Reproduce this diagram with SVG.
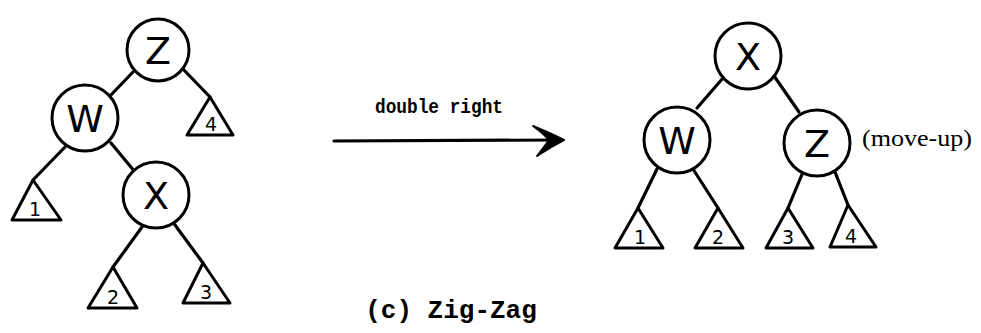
<svg xmlns="http://www.w3.org/2000/svg" width="981" height="333" viewBox="0 0 981 333">
<style>
.n{fill:#fff;stroke:#000;stroke-width:3}
.t{fill:#fff;stroke:#000;stroke-width:3;stroke-linejoin:round}
.e{stroke:#000;stroke-width:3.2;stroke-linecap:round;fill:none}
.lb{font-family:"DejaVu Sans",sans-serif;font-size:38px;text-anchor:middle;fill:#000}
.d{font-family:"DejaVu Sans",sans-serif;font-size:19px;text-anchor:middle;fill:#000}
.mono{font-family:"Liberation Mono","DejaVu Sans Mono",monospace;fill:#000}
.ser{font-family:"Liberation Serif",serif;fill:#000}
</style>
<rect width="981" height="333" fill="#fff"/>
<g id="connectors">
<line class="e" x1="133" y1="72" x2="110" y2="96"/>
<line class="e" x1="182" y1="68" x2="210" y2="97"/>
<line class="e" x1="65" y1="147" x2="33" y2="180"/>
<line class="e" x1="111" y1="143" x2="135" y2="172"/>
<line class="e" x1="142" y1="227" x2="113" y2="267"/>
<line class="e" x1="175" y1="225" x2="203" y2="263"/>
<line class="e" x1="723" y1="78" x2="697" y2="108"/>
<line class="e" x1="772" y1="73" x2="799" y2="112"/>
<line class="e" x1="657" y1="169" x2="638" y2="208"/>
<line class="e" x1="693" y1="169" x2="718" y2="208"/>
<line class="e" x1="803" y1="172" x2="788" y2="208"/>
<line class="e" x1="835" y1="172" x2="848" y2="205"/>
<path class="e" d="M334 141 L561 140" stroke-width="3.5"/>
<path d="M533 126 Q548 132 564 140 Q550 147 537 156 Q545 146 549 140 Q543 133 533 126 Z" fill="#000" stroke="#000" stroke-width="2" stroke-linejoin="round"/>
</g>
<g id="label-double-right"><text class="mono" x="375" y="113" font-size="20" font-weight="bold" textLength="128" lengthAdjust="spacingAndGlyphs">double right</text></g>
<g id="L-Z"><circle class="n" cx="158" cy="50" r="31"/><text class="lb" x="158" y="64">Z</text></g>
<g id="L-W"><circle class="n" cx="85" cy="118" r="33"/><text class="lb" x="85" y="132">W</text></g>
<g id="L-X"><circle class="n" cx="156" cy="195" r="33"/><text class="lb" x="156" y="209">X</text></g>
<g id="L-T1"><polygon class="t" points="33,180 12,220 61,220"/><text class="d" x="35" y="216">1</text></g>
<g id="L-T4"><polygon class="t" points="210,97 187,135 233,135"/><text class="d" x="211" y="131">4</text></g>
<g id="L-T2"><polygon class="t" points="113,267 88,308 137,308"/><text class="d" x="113" y="304">2</text></g>
<g id="L-T3"><polygon class="t" points="203,263 183,303 230,303"/><text class="d" x="206" y="299">3</text></g>
<g id="R-X"><circle class="n" cx="748" cy="56" r="33"/><text class="lb" x="748" y="70">X</text></g>
<g id="R-W"><circle class="n" cx="677" cy="140" r="33"/><text class="lb" x="677" y="154">W</text></g>
<g id="R-Z"><circle class="n" cx="817" cy="143" r="33"/><text class="lb" x="817" y="157">Z</text></g>
<g id="R-T1"><polygon class="t" points="638,208 615,248 663,248"/><text class="d" x="640" y="244">1</text></g>
<g id="R-T2"><polygon class="t" points="718,208 695,248 743,248"/><text class="d" x="718" y="244">2</text></g>
<g id="R-T3"><polygon class="t" points="788,208 766,248 813,248"/><text class="d" x="788" y="244">3</text></g>
<g id="R-T4"><polygon class="t" points="848,205 830,247 876,247"/><text class="d" x="851" y="243">4</text></g>
<g id="label-move-up"><text class="ser" x="862" y="146" font-size="24" textLength="110" lengthAdjust="spacingAndGlyphs">(move-up)</text></g>
<g id="caption"><text class="mono" x="451" y="318" font-size="26" font-weight="bold" text-anchor="middle">(c) Zig-Zag</text></g>
</svg>
